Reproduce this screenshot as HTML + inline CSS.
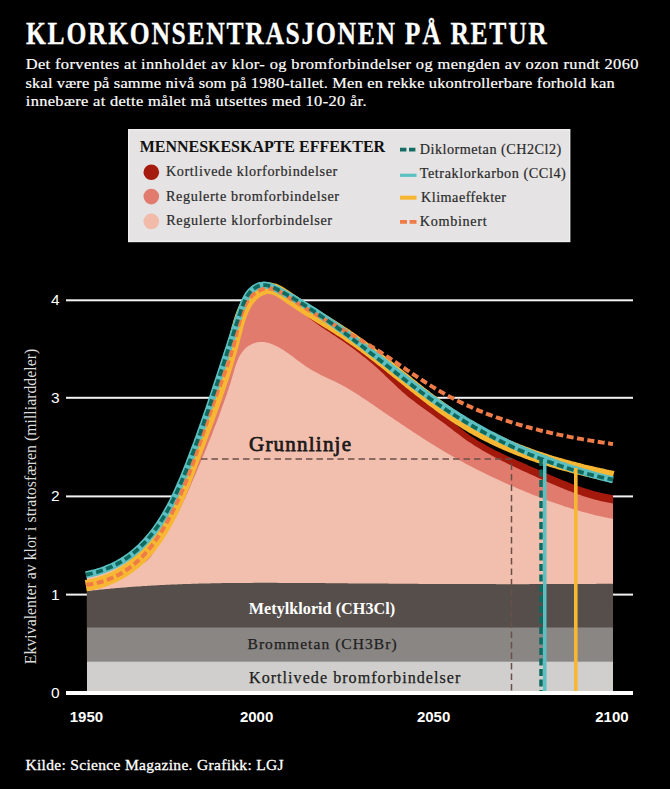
<!DOCTYPE html>
<html><head><meta charset="utf-8"><style>
html,body{margin:0;padding:0;background:#000;}
svg{display:block;}
.s{font-family:"Liberation Serif",serif;}
.a{font-family:"Liberation Sans",sans-serif;}
</style></head><body>
<svg width="670" height="789" viewBox="0 0 670 789">
<rect width="670" height="789" fill="#000"/>
<g transform="translate(26,43.7) scale(0.8,1)"><text class="s" x="0" y="0" font-size="32" font-weight="bold" fill="#fff" stroke="#fff" stroke-width="0.3" textLength="651" lengthAdjust="spacing">KLORKONSENTRASJONEN PÅ RETUR</text></g>
<g class="s" font-size="15.2" fill="#fff" stroke="#fff" stroke-width="0.2">
<text transform="translate(25.7,68.6) scale(1.08,1)" textLength="567.4" lengthAdjust="spacing">Det forventes at innholdet av klor- og bromforbindelser og mengden av ozon rundt 2060</text>
<text transform="translate(25.5,87.6) scale(1.08,1)" textLength="545.5" lengthAdjust="spacing">skal være på samme nivå som på 1980-tallet. Men en rekke ukontrollerbare forhold kan</text>
<text transform="translate(25.8,106.2) scale(1.08,1)" textLength="315.5" lengthAdjust="spacing">innebære at dette målet må utsettes med 10-20 år.</text>
</g>
<rect x="128.7" y="129.7" width="441" height="111.8" fill="#e5e3e3" stroke="#efeded" stroke-width="1.4"/>
<text class="s" x="139.7" y="152.2" font-size="16" font-weight="bold" fill="#111" textLength="245.4" lengthAdjust="spacingAndGlyphs">MENNESKESKAPTE EFFEKTER</text>
<circle cx="151.3" cy="172.3" r="7.8" fill="#a51c0f"/>
<circle cx="151.3" cy="196.6" r="7.8" fill="#e07b6e"/>
<circle cx="151.3" cy="221.4" r="7.8" fill="#f2baa8"/>
<g class="s" font-size="14.2" fill="#2a2a2a" stroke="#2a2a2a" stroke-width="0.2">
<text x="165.9" y="175.6" textLength="171.4" lengthAdjust="spacing">Kortlivede klorforbindelser</text>
<text x="165.9" y="200.5" textLength="173.2" lengthAdjust="spacing">Regulerte bromforbindelser</text>
<text x="166.2" y="225.3" textLength="165.9" lengthAdjust="spacing">Regulerte klorforbindelser</text>
<text x="419.7" y="154.2" textLength="141.6" lengthAdjust="spacing">Diklormetan (CH2Cl2)</text>
<text x="419.7" y="177.5" textLength="146.1" lengthAdjust="spacing">Tetraklorkarbon (CCl4)</text>
<text x="421" y="202.2" textLength="85.1" lengthAdjust="spacing">Klimaeffekter</text>
<text x="419.7" y="225.6" textLength="67" lengthAdjust="spacing">Kombinert</text>
</g>
<path d="M400,149.6 H416.5" stroke="#166d62" stroke-width="3.8" stroke-dasharray="6.4,2.6"/>
<rect x="400" y="173.7" width="16.5" height="3.2" fill="#5cc0c2"/>
<rect x="400" y="195.7" width="16.5" height="4" fill="#f8b733"/>
<path d="M400,221.8 H416.5" stroke="#ef7b47" stroke-width="3.8" stroke-dasharray="7,2.6"/>
<rect x="66" y="299.3" width="567" height="2" fill="#f2f2f2"/>
<rect x="66" y="396.8" width="567" height="2" fill="#f2f2f2"/>
<rect x="66" y="495.4" width="567" height="2" fill="#f2f2f2"/>
<rect x="66" y="593.6" width="567" height="2" fill="#f2f2f2"/>
<path d="M87.0,576.2 L89.4,575.3 L91.8,574.5 L94.1,573.6 L96.5,572.7 L98.9,571.7 L101.3,570.8 L103.7,569.8 L106.1,568.8 L108.5,567.8 L110.9,566.8 L113.2,565.7 L115.6,564.6 L117.9,563.4 L120.2,562.2 L122.4,561.0 L124.7,559.7 L126.9,558.3 L129.0,556.9 L131.1,555.5 L133.2,553.9 L135.2,552.4 L137.3,550.8 L139.2,549.1 L141.1,547.4 L143.0,545.7 L144.9,543.9 L146.7,542.0 L148.5,540.2 L150.2,538.3 L151.9,536.3 L153.5,534.4 L155.2,532.3 L156.7,530.3 L158.2,528.2 L159.7,526.1 L161.2,524.0 L162.6,521.9 L163.9,519.7 L165.3,517.5 L166.5,515.3 L167.8,513.0 L169.0,510.8 L170.1,508.5 L171.3,506.2 L172.4,503.9 L173.5,501.6 L174.5,499.2 L175.5,496.9 L176.5,494.5 L177.5,492.1 L178.5,489.7 L179.4,487.3 L180.4,484.9 L181.3,482.5 L182.2,480.1 L183.1,477.7 L184.0,475.2 L184.9,472.8 L185.8,470.4 L186.7,467.9 L187.5,465.5 L188.4,463.1 L189.3,460.6 L190.2,458.2 L191.1,455.8 L192.0,453.4 L193.0,451.0 L193.9,448.5 L194.8,446.1 L195.7,443.7 L196.6,441.3 L197.6,438.9 L198.5,436.5 L199.4,434.1 L200.4,431.7 L201.3,429.3 L202.2,426.9 L203.1,424.5 L204.0,422.1 L205.0,419.7 L205.9,417.3 L206.8,414.8 L207.7,412.4 L208.6,410.0 L209.4,407.6 L210.3,405.2 L211.2,402.8 L212.0,400.4 L212.9,397.9 L213.7,395.5 L214.6,393.1 L215.4,390.7 L216.2,388.2 L217.0,385.8 L217.8,383.4 L218.6,380.9 L219.4,378.5 L220.1,376.1 L220.9,373.6 L221.7,371.2 L222.5,368.7 L223.2,366.3 L224.0,363.8 L224.8,361.4 L225.5,358.9 L226.3,356.5 L227.1,354.0 L227.9,351.6 L228.6,349.1 L229.4,346.7 L230.2,344.2 L231.0,341.8 L231.8,339.3 L232.6,336.9 L233.4,334.4 L234.2,332.0 L235.0,329.5 L235.9,327.1 L236.7,324.6 L237.6,322.2 L238.4,319.7 L239.3,317.3 L240.2,314.8 L241.1,312.4 L242.1,310.0 L243.0,307.5 L243.9,305.1 L244.9,302.7 L245.9,300.3 L247.0,297.9 L248.1,295.6 L249.4,293.4 L250.9,291.3 L252.7,289.5 L254.7,288.0 L256.9,286.7 L259.3,285.7 L261.8,285.0 L264.4,284.8 L266.9,284.9 L269.4,285.4 L271.8,286.3 L274.2,287.4 L276.4,288.8 L278.5,290.3 L280.6,292.0 L282.5,293.7 L284.4,295.5 L286.2,297.4 L288.0,299.2 L289.8,301.0 L291.7,302.8 L293.6,304.5 L295.5,306.2 L297.5,307.8 L299.5,309.4 L301.5,310.9 L303.6,312.4 L305.7,313.9 L307.9,315.3 L310.0,316.7 L312.2,318.1 L314.4,319.4 L316.6,320.8 L318.8,322.1 L321.0,323.4 L323.3,324.7 L325.5,325.9 L327.8,327.2 L330.0,328.5 L332.3,329.8 L334.5,331.1 L336.8,332.4 L339.0,333.7 L341.2,335.0 L343.4,336.4 L345.6,337.7 L347.8,339.1 L349.9,340.6 L352.1,342.0 L354.2,343.5 L356.3,345.0 L358.3,346.5 L360.4,348.0 L362.5,349.6 L364.5,351.1 L366.5,352.7 L368.5,354.3 L370.6,355.9 L372.6,357.5 L374.6,359.2 L376.5,360.8 L378.5,362.5 L380.5,364.1 L382.5,365.8 L384.4,367.4 L386.4,369.1 L388.4,370.7 L390.4,372.4 L392.3,374.0 L394.3,375.7 L396.3,377.3 L398.3,379.0 L400.3,380.6 L402.3,382.2 L404.3,383.8 L406.3,385.4 L408.3,387.0 L410.3,388.6 L412.4,390.1 L414.4,391.7 L416.5,393.2 L418.5,394.8 L420.6,396.3 L422.7,397.9 L424.7,399.4 L426.8,401.0 L428.8,402.5 L430.9,404.1 L432.9,405.7 L434.9,407.2 L437.0,408.8 L439.0,410.5 L441.0,412.1 L443.0,413.7 L444.9,415.4 L446.9,417.1 L448.9,418.7 L450.9,420.4 L452.9,422.0 L454.9,423.7 L456.8,425.3 L458.9,426.9 L460.9,428.6 L462.9,430.1 L464.9,431.7 L467.0,433.2 L469.1,434.7 L471.2,436.2 L473.3,437.6 L475.4,439.0 L477.6,440.4 L479.8,441.7 L482.0,443.1 L484.2,444.3 L486.4,445.6 L488.7,446.8 L491.0,448.0 L493.2,449.2 L495.5,450.4 L497.8,451.5 L500.2,452.6 L502.5,453.7 L504.8,454.8 L507.2,455.9 L509.5,457.0 L511.9,458.1 L514.2,459.1 L516.6,460.2 L519.0,461.2 L521.3,462.3 L523.7,463.3 L526.1,464.3 L528.4,465.4 L530.8,466.4 L533.2,467.5 L535.5,468.5 L537.9,469.5 L540.2,470.6 L542.6,471.6 L544.9,472.7 L547.3,473.7 L549.7,474.7 L552.0,475.7 L554.4,476.8 L556.7,477.8 L559.1,478.8 L561.5,479.7 L563.9,480.7 L566.2,481.6 L568.6,482.6 L571.0,483.5 L573.4,484.4 L575.8,485.3 L578.2,486.1 L580.7,487.0 L583.1,487.8 L585.5,488.6 L588.0,489.3 L590.4,490.0 L592.9,490.7 L595.4,491.4 L597.9,492.1 L600.4,492.7 L602.9,493.2 L605.4,493.8 L608.0,494.3 L610.5,494.7 L613.1,495.2 L613.0,691 L87.0,691 Z" fill="#a3190c"/>
<path d="M86.9,576.7 L89.4,575.9 L91.9,575.0 L94.3,574.1 L96.7,573.2 L99.2,572.3 L101.6,571.4 L104.0,570.4 L106.3,569.4 L108.7,568.3 L111.0,567.2 L113.4,566.1 L115.7,565.0 L118.0,563.8 L120.2,562.6 L122.5,561.3 L124.7,560.0 L126.9,558.6 L129.1,557.2 L131.2,555.7 L133.4,554.2 L135.5,552.7 L137.5,551.1 L139.5,549.4 L141.5,547.7 L143.4,546.0 L145.3,544.2 L147.2,542.4 L148.9,540.5 L150.7,538.6 L152.3,536.6 L154.0,534.6 L155.5,532.6 L157.1,530.5 L158.6,528.4 L160.0,526.3 L161.4,524.1 L162.8,521.9 L164.1,519.7 L165.4,517.5 L166.7,515.2 L167.9,512.9 L169.1,510.7 L170.2,508.4 L171.4,506.0 L172.5,503.7 L173.6,501.3 L174.6,499.0 L175.7,496.6 L176.7,494.2 L177.7,491.8 L178.7,489.4 L179.6,487.0 L180.6,484.6 L181.5,482.2 L182.5,479.7 L183.4,477.3 L184.3,474.9 L185.2,472.4 L186.1,470.0 L187.0,467.6 L187.9,465.1 L188.8,462.7 L189.7,460.3 L190.6,457.9 L191.5,455.4 L192.4,453.0 L193.4,450.6 L194.3,448.2 L195.2,445.8 L196.1,443.4 L197.0,441.0 L198.0,438.6 L198.9,436.2 L199.8,433.8 L200.7,431.4 L201.6,428.9 L202.5,426.5 L203.5,424.1 L204.4,421.7 L205.3,419.3 L206.2,416.9 L207.1,414.5 L208.0,412.0 L208.8,409.6 L209.7,407.2 L210.6,404.7 L211.5,402.3 L212.3,399.8 L213.2,397.4 L214.0,394.9 L214.9,392.4 L215.7,390.0 L216.5,387.5 L217.4,385.0 L218.2,382.5 L219.0,380.0 L219.8,377.5 L220.6,375.1 L221.4,372.6 L222.2,370.1 L223.0,367.6 L223.8,365.1 L224.6,362.7 L225.4,360.2 L226.2,357.7 L226.9,355.3 L227.7,352.8 L228.5,350.4 L229.3,347.9 L230.1,345.5 L230.9,343.1 L231.7,340.7 L232.5,338.3 L233.3,336.0 L234.1,333.6 L234.9,331.2 L235.7,328.8 L236.5,326.4 L237.3,324.0 L238.1,321.5 L238.9,319.0 L239.7,316.4 L240.6,313.8 L241.4,311.1 L242.3,308.5 L243.2,305.9 L244.2,303.4 L245.3,300.9 L246.5,298.5 L247.9,296.3 L249.3,294.2 L250.9,292.3 L252.7,290.6 L254.6,289.2 L256.7,287.9 L259.0,287.0 L261.3,286.3 L263.7,285.9 L266.2,285.9 L268.6,286.1 L271.0,286.7 L273.5,287.5 L275.8,288.5 L278.1,289.8 L280.2,291.3 L282.3,292.9 L284.3,294.6 L286.3,296.5 L288.2,298.4 L290.1,300.4 L291.9,302.3 L293.8,304.3 L295.7,306.3 L297.6,308.1 L299.5,310.0 L301.5,311.7 L303.5,313.5 L305.5,315.1 L307.5,316.8 L309.5,318.4 L311.6,319.9 L313.6,321.5 L315.7,323.0 L317.8,324.5 L319.9,325.9 L322.0,327.4 L324.1,328.8 L326.2,330.2 L328.4,331.6 L330.5,333.0 L332.6,334.4 L334.8,335.8 L336.9,337.2 L339.0,338.7 L341.1,340.1 L343.3,341.6 L345.4,343.0 L347.5,344.5 L349.6,346.0 L351.7,347.6 L353.8,349.1 L355.8,350.6 L357.9,352.2 L360.0,353.8 L362.0,355.4 L364.0,357.0 L366.1,358.6 L368.1,360.3 L370.1,362.0 L372.0,363.6 L374.0,365.3 L376.0,367.0 L377.9,368.8 L379.8,370.5 L381.7,372.3 L383.6,374.1 L385.5,375.9 L387.4,377.7 L389.2,379.5 L391.1,381.3 L393.0,383.1 L394.8,384.8 L396.7,386.6 L398.6,388.4 L400.5,390.1 L402.4,391.9 L404.4,393.6 L406.3,395.2 L408.3,396.9 L410.3,398.5 L412.3,400.1 L414.4,401.6 L416.5,403.2 L418.5,404.7 L420.6,406.3 L422.7,407.8 L424.8,409.3 L426.9,410.8 L429.0,412.3 L431.1,413.8 L433.2,415.3 L435.3,416.9 L437.4,418.4 L439.5,419.9 L441.6,421.5 L443.7,423.0 L445.8,424.6 L447.8,426.2 L449.9,427.8 L452.0,429.3 L454.0,430.9 L456.1,432.5 L458.2,434.1 L460.2,435.6 L462.3,437.2 L464.4,438.7 L466.5,440.2 L468.6,441.7 L470.8,443.1 L472.9,444.5 L475.1,445.9 L477.3,447.3 L479.5,448.6 L481.7,450.0 L483.9,451.3 L486.2,452.5 L488.4,453.8 L490.7,455.0 L492.9,456.3 L495.2,457.5 L497.5,458.6 L499.8,459.8 L502.1,461.0 L504.5,462.1 L506.8,463.2 L509.1,464.4 L511.5,465.5 L513.8,466.6 L516.1,467.7 L518.5,468.8 L520.9,469.9 L523.2,470.9 L525.6,472.0 L527.9,473.1 L530.3,474.2 L532.7,475.3 L535.0,476.3 L537.4,477.4 L539.7,478.5 L542.1,479.6 L544.5,480.6 L546.9,481.7 L549.2,482.7 L551.6,483.8 L554.0,484.8 L556.4,485.8 L558.8,486.8 L561.2,487.8 L563.5,488.8 L566.0,489.8 L568.4,490.7 L570.8,491.6 L573.2,492.5 L575.6,493.4 L578.0,494.3 L580.5,495.1 L582.9,496.0 L585.4,496.8 L587.8,497.5 L590.3,498.3 L592.8,499.0 L595.3,499.7 L597.8,500.3 L600.3,501.0 L602.8,501.5 L605.3,502.1 L607.9,502.6 L610.4,503.1 L613.0,503.6 L613.0,691 L87.0,691 Z" fill="#e07b6e"/>
<path d="M87.0,576.2 L89.2,575.4 L91.4,574.6 L93.7,573.9 L95.9,573.1 L98.2,572.3 L100.4,571.4 L102.6,570.5 L104.8,569.6 L107.0,568.6 L109.2,567.6 L111.4,566.5 L113.5,565.3 L115.6,564.1 L117.7,562.8 L119.8,561.6 L121.9,560.6 L124.0,559.9 L126.2,559.8 L128.5,560.1 L130.9,560.7 L133.2,561.5 L135.5,562.2 L137.8,562.9 L140.0,563.3 L142.1,563.2 L144.1,562.7 L145.9,561.7 L147.6,560.3 L149.3,558.6 L150.8,556.7 L152.3,554.5 L153.8,552.3 L155.2,550.0 L156.6,547.6 L158.0,545.4 L159.4,543.2 L160.7,541.1 L162.1,539.0 L163.5,537.0 L164.8,535.0 L166.1,533.1 L167.4,531.1 L168.7,529.2 L169.9,527.2 L171.1,525.3 L172.3,523.3 L173.5,521.3 L174.7,519.2 L175.8,517.2 L176.9,515.1 L178.0,513.0 L179.1,510.9 L180.1,508.8 L181.2,506.6 L182.2,504.5 L183.2,502.3 L184.2,500.1 L185.2,498.0 L186.2,495.8 L187.2,493.6 L188.1,491.4 L189.1,489.2 L190.0,487.0 L191.0,484.8 L191.9,482.6 L192.9,480.3 L193.8,478.1 L194.8,475.9 L195.7,473.7 L196.7,471.5 L197.6,469.3 L198.5,467.1 L199.4,464.9 L200.4,462.7 L201.3,460.5 L202.2,458.3 L203.1,456.1 L204.0,453.9 L204.9,451.7 L205.9,449.5 L206.8,447.3 L207.6,445.0 L208.5,442.8 L209.4,440.6 L210.3,438.4 L211.2,436.2 L212.1,434.0 L212.9,431.8 L213.8,429.6 L214.6,427.3 L215.5,425.1 L216.4,422.9 L217.2,420.7 L218.0,418.5 L218.9,416.2 L219.7,414.0 L220.5,411.8 L221.3,409.5 L222.1,407.3 L222.9,405.1 L223.7,402.8 L224.5,400.6 L225.3,398.4 L226.1,396.1 L226.9,393.9 L227.6,391.6 L228.4,389.4 L229.1,387.1 L229.9,384.8 L230.6,382.5 L231.3,380.2 L232.0,377.8 L232.7,375.4 L233.4,373.0 L234.1,370.6 L234.8,368.2 L235.6,365.8 L236.4,363.5 L237.2,361.2 L238.2,359.0 L239.2,356.8 L240.4,354.7 L241.7,352.7 L243.1,350.9 L244.6,349.2 L246.3,347.6 L248.2,346.1 L250.3,344.9 L252.5,343.8 L254.7,342.9 L257.1,342.3 L259.4,342.0 L261.8,341.9 L264.1,342.0 L266.5,342.4 L268.8,343.0 L271.1,343.8 L273.4,344.7 L275.6,345.7 L277.8,346.8 L279.9,348.0 L282.0,349.3 L284.1,350.6 L286.1,352.0 L288.1,353.3 L290.0,354.7 L292.0,356.1 L293.9,357.6 L295.8,359.0 L297.7,360.4 L299.6,361.8 L301.5,363.3 L303.4,364.6 L305.3,366.0 L307.3,367.3 L309.3,368.6 L311.3,369.8 L313.4,371.0 L315.4,372.1 L317.6,373.2 L319.7,374.3 L321.8,375.4 L324.0,376.4 L326.2,377.4 L328.3,378.5 L330.5,379.5 L332.7,380.5 L334.9,381.6 L337.0,382.6 L339.2,383.7 L341.3,384.8 L343.4,385.9 L345.5,387.1 L347.5,388.3 L349.6,389.5 L351.6,390.7 L353.6,392.0 L355.7,393.3 L357.7,394.6 L359.7,395.8 L361.6,397.2 L363.6,398.5 L365.6,399.8 L367.6,401.1 L369.6,402.5 L371.5,403.8 L373.5,405.1 L375.5,406.5 L377.4,407.8 L379.4,409.2 L381.4,410.5 L383.4,411.9 L385.3,413.2 L387.3,414.5 L389.3,415.9 L391.3,417.2 L393.2,418.6 L395.2,419.9 L397.2,421.3 L399.2,422.6 L401.1,423.9 L403.1,425.3 L405.1,426.6 L407.1,427.9 L409.1,429.2 L411.1,430.6 L413.1,431.9 L415.1,433.2 L417.1,434.5 L419.1,435.8 L421.1,437.1 L423.1,438.4 L425.1,439.7 L427.1,441.0 L429.1,442.2 L431.2,443.5 L433.2,444.8 L435.2,446.0 L437.2,447.3 L439.3,448.5 L441.3,449.8 L443.4,451.0 L445.4,452.2 L447.5,453.4 L449.5,454.6 L451.6,455.8 L453.7,457.0 L455.7,458.2 L457.8,459.3 L459.9,460.5 L462.0,461.6 L464.1,462.8 L466.2,463.9 L468.3,465.0 L470.4,466.1 L472.5,467.2 L474.6,468.3 L476.7,469.4 L478.9,470.5 L481.0,471.5 L483.1,472.6 L485.3,473.6 L487.4,474.7 L489.6,475.7 L491.7,476.7 L493.9,477.8 L496.0,478.8 L498.2,479.8 L500.4,480.8 L502.5,481.8 L504.7,482.7 L506.9,483.7 L509.1,484.7 L511.3,485.6 L513.4,486.6 L515.6,487.5 L517.8,488.5 L520.0,489.4 L522.2,490.3 L524.4,491.3 L526.6,492.2 L528.8,493.1 L531.1,494.0 L533.3,494.9 L535.5,495.8 L537.7,496.6 L539.9,497.5 L542.2,498.4 L544.4,499.2 L546.6,500.0 L548.9,500.9 L551.1,501.7 L553.4,502.5 L555.6,503.3 L557.9,504.1 L560.1,504.8 L562.4,505.6 L564.6,506.4 L566.9,507.1 L569.2,507.8 L571.5,508.5 L573.7,509.2 L576.0,509.9 L578.3,510.6 L580.6,511.2 L582.9,511.9 L585.2,512.5 L587.5,513.1 L589.8,513.7 L592.1,514.3 L594.4,514.9 L596.7,515.4 L599.0,516.0 L601.4,516.5 L603.7,517.0 L606.0,517.5 L608.4,518.0 L610.7,518.4 L613.0,518.8 L613.0,691 L87.0,691 Z" fill="#f2bfae"/>
<path d="M86.9,591.1 L88.7,590.9 L90.4,590.7 L92.2,590.5 L93.9,590.3 L95.7,590.2 L97.4,590.0 L99.2,589.8 L100.9,589.6 L102.7,589.4 L104.4,589.3 L106.2,589.1 L107.9,588.9 L109.7,588.7 L111.4,588.6 L113.2,588.4 L114.9,588.3 L116.7,588.1 L118.4,588.0 L120.2,587.8 L122.0,587.7 L123.7,587.5 L125.5,587.4 L127.2,587.2 L129.0,587.1 L130.7,587.0 L132.5,586.8 L134.2,586.7 L136.0,586.6 L137.7,586.5 L139.5,586.4 L141.3,586.2 L143.0,586.1 L144.8,586.0 L146.5,585.9 L148.3,585.8 L150.0,585.7 L151.8,585.6 L153.5,585.5 L155.3,585.4 L157.1,585.3 L158.8,585.2 L160.6,585.1 L162.3,585.0 L164.1,584.9 L165.8,584.8 L167.6,584.8 L169.4,584.7 L171.1,584.6 L172.9,584.5 L174.6,584.4 L176.4,584.4 L178.1,584.3 L179.9,584.2 L181.7,584.2 L183.4,584.1 L185.2,584.0 L186.9,584.0 L188.7,583.9 L190.4,583.9 L192.2,583.8 L194.0,583.8 L195.7,583.7 L197.5,583.7 L199.2,583.6 L201.0,583.6 L202.8,583.5 L204.5,583.5 L206.3,583.4 L208.0,583.4 L209.8,583.4 L211.6,583.3 L213.3,583.3 L215.1,583.3 L216.8,583.2 L218.6,583.2 L220.4,583.2 L222.1,583.1 L223.9,583.1 L225.6,583.1 L227.4,583.1 L229.2,583.0 L230.9,583.0 L232.7,583.0 L234.4,583.0 L236.2,583.0 L238.0,582.9 L239.7,582.9 L241.5,582.9 L243.2,582.9 L245.0,582.9 L246.8,582.9 L248.5,582.9 L250.3,582.9 L252.0,582.9 L253.8,582.8 L255.6,582.8 L257.3,582.8 L259.1,582.8 L260.8,582.8 L262.6,582.8 L264.4,582.8 L266.1,582.8 L267.9,582.8 L269.6,582.8 L271.4,582.8 L273.2,582.8 L274.9,582.8 L276.7,582.8 L278.5,582.9 L280.2,582.9 L282.0,582.9 L283.7,582.9 L285.5,582.9 L287.3,582.9 L289.0,582.9 L290.8,582.9 L292.5,582.9 L294.3,582.9 L296.1,582.9 L297.8,582.9 L299.6,583.0 L301.4,583.0 L303.1,583.0 L304.9,583.0 L306.6,583.0 L308.4,583.0 L310.2,583.0 L311.9,583.0 L313.7,583.1 L315.4,583.1 L317.2,583.1 L319.0,583.1 L320.7,583.1 L322.5,583.1 L324.3,583.1 L326.0,583.2 L327.8,583.2 L329.5,583.2 L331.3,583.2 L333.1,583.2 L334.8,583.2 L336.6,583.3 L338.3,583.3 L340.1,583.3 L341.9,583.3 L343.6,583.3 L345.4,583.3 L347.1,583.3 L348.9,583.4 L350.7,583.4 L352.4,583.4 L354.2,583.4 L356.0,583.4 L357.7,583.4 L359.5,583.4 L361.2,583.5 L363.0,583.5 L364.8,583.5 L366.5,583.5 L368.3,583.5 L370.0,583.5 L371.8,583.5 L373.6,583.5 L375.3,583.6 L377.1,583.6 L378.8,583.6 L380.6,583.6 L382.4,583.6 L384.1,583.6 L385.9,583.6 L387.7,583.6 L389.4,583.7 L391.2,583.7 L392.9,583.7 L394.7,583.7 L396.5,583.7 L398.2,583.7 L400.0,583.7 L401.7,583.7 L403.5,583.8 L405.3,583.8 L407.0,583.8 L408.8,583.8 L410.5,583.8 L412.3,583.8 L414.1,583.8 L415.8,583.8 L417.6,583.8 L419.3,583.9 L421.1,583.9 L422.9,583.9 L424.6,583.9 L426.4,583.9 L428.1,583.9 L429.9,583.9 L431.7,583.9 L433.4,583.9 L435.2,583.9 L437.0,584.0 L438.7,584.0 L440.5,584.0 L442.2,584.0 L444.0,584.0 L445.8,584.0 L447.5,584.0 L449.3,584.0 L451.0,584.0 L452.8,584.0 L454.6,584.0 L456.3,584.0 L458.1,584.0 L459.8,584.1 L461.6,584.1 L463.4,584.1 L465.1,584.1 L466.9,584.1 L468.6,584.1 L470.4,584.1 L472.2,584.1 L473.9,584.1 L475.7,584.1 L477.4,584.1 L479.2,584.1 L481.0,584.1 L482.7,584.1 L484.5,584.1 L486.2,584.1 L488.0,584.1 L489.8,584.1 L491.5,584.1 L493.3,584.1 L495.0,584.1 L496.8,584.2 L498.6,584.2 L500.3,584.2 L502.1,584.2 L503.9,584.2 L505.6,584.2 L507.4,584.2 L509.1,584.2 L510.9,584.2 L512.7,584.2 L514.4,584.2 L516.2,584.2 L517.9,584.2 L519.7,584.2 L521.5,584.2 L523.2,584.2 L525.0,584.2 L526.7,584.2 L528.5,584.2 L530.3,584.1 L532.0,584.1 L533.8,584.1 L535.5,584.1 L537.3,584.1 L539.1,584.1 L540.8,584.1 L542.6,584.1 L544.3,584.1 L546.1,584.1 L547.9,584.1 L549.6,584.1 L551.4,584.1 L553.1,584.1 L554.9,584.1 L556.7,584.1 L558.4,584.1 L560.2,584.1 L561.9,584.1 L563.7,584.0 L565.5,584.0 L567.2,584.0 L569.0,584.0 L570.7,584.0 L572.5,584.0 L574.3,584.0 L576.0,584.0 L577.8,584.0 L579.5,584.0 L581.3,584.0 L583.1,583.9 L584.8,583.9 L586.6,583.9 L588.3,583.9 L590.1,583.9 L591.9,583.9 L593.6,583.9 L595.4,583.9 L597.1,583.8 L598.9,583.8 L600.7,583.8 L602.4,583.8 L604.2,583.8 L606.0,583.8 L607.7,583.7 L609.5,583.7 L611.2,583.7 L613.0,583.7 L613.0,691 L87.0,691 Z" fill="#554e4a"/>
<rect x="87" y="627.5" width="526" height="34" fill="#898684"/>
<rect x="87" y="661.5" width="526" height="30" fill="#d0cfcd"/>
<path d="M201,459 H511.5 V691" fill="none" stroke="#6a4f48" stroke-width="1.5" stroke-dasharray="6.5,4"/>
<rect x="66" y="691" width="567" height="4" fill="#ffffff"/>
<path d="M85.8,585.6 L88.7,585.1 L91.5,584.5 L94.3,583.9 L97.0,583.2 L99.7,582.4 L102.3,581.6 L104.9,580.7 L107.4,579.8 L109.8,578.8 L112.2,577.8 L114.6,576.7 L116.9,575.5 L119.1,574.3 L121.3,573.0 L123.5,571.7 L125.6,570.4 L127.7,569.0 L129.7,567.5 L131.7,566.0 L133.7,564.5 L135.6,562.9 L137.4,561.3 L139.3,559.6 L141.0,557.9 L142.8,556.1 L144.5,554.4 L146.2,552.5 L147.8,550.7 L149.4,548.8 L151.0,546.9 L152.5,544.9 L154.0,542.9 L155.5,540.9 L156.9,538.8 L158.3,536.7 L159.7,534.6 L161.1,532.5 L162.4,530.3 L163.7,528.2 L165.0,525.9 L166.2,523.7 L167.5,521.5 L168.7,519.2 L169.9,516.9 L171.0,514.6 L172.2,512.3 L173.3,509.9 L174.4,507.6 L175.5,505.2 L176.6,502.8 L177.6,500.4 L178.6,498.0 L179.7,495.6 L180.7,493.2 L181.7,490.8 L182.7,488.4 L183.6,485.9 L184.6,483.5 L185.5,481.0 L186.5,478.6 L187.4,476.2 L188.3,473.7 L189.3,471.3 L190.2,468.8 L191.1,466.4 L192.0,464.0 L192.9,461.5 L193.8,459.1 L194.7,456.7 L195.6,454.3 L196.5,451.9 L197.4,449.5 L198.3,447.1 L199.2,444.8 L200.1,442.4 L201.0,440.0 L201.9,437.6 L202.8,435.3 L203.6,432.9 L204.5,430.6 L205.4,428.2 L206.3,425.9 L207.1,423.5 L208.0,421.2 L208.9,418.8 L209.7,416.5 L210.6,414.1 L211.4,411.8 L212.3,409.4 L213.1,407.1 L214.0,404.7 L214.8,402.3 L215.6,400.0 L216.5,397.6 L217.3,395.2 L218.1,392.8 L218.9,390.5 L219.7,388.1 L220.5,385.7 L221.3,383.3 L222.1,380.9 L222.9,378.4 L223.7,376.0 L224.5,373.6 L225.2,371.1 L226.0,368.7 L226.8,366.2 L227.5,363.7 L228.2,361.2 L229.0,358.7 L229.7,356.2 L230.4,353.7 L231.2,351.2 L231.9,348.6 L232.6,346.1 L233.3,343.5 L234.0,340.9 L234.6,338.3 L235.3,335.6 L236.0,333.0 L236.7,330.4 L237.3,327.7 L238.1,325.1 L238.8,322.5 L239.6,320.0 L240.4,317.4 L241.3,314.9 L242.2,312.5 L243.2,310.1 L244.2,307.8 L245.4,305.6 L246.6,303.4 L247.9,301.4 L249.4,299.4 L250.9,297.6 L252.5,295.8 L254.3,294.2 L256.2,292.7 L258.2,291.4 L260.3,290.3 L262.4,289.4 L264.6,288.7 L266.8,288.3 L269.1,288.2 L271.4,288.5 L273.6,289.0 L275.9,289.8 L278.1,290.9 L280.4,292.1 L282.6,293.5 L284.9,295.0 L287.1,296.5 L289.3,298.1 L291.6,299.6 L293.8,301.1 L296.0,302.6 L298.2,304.1 L300.4,305.6 L302.6,307.0 L304.8,308.4 L307.0,309.8 L309.2,311.2 L311.4,312.6 L313.6,314.0 L315.8,315.3 L318.0,316.7 L320.2,318.0 L322.3,319.4 L324.5,320.7 L326.6,322.0 L328.8,323.4 L330.9,324.7 L333.1,326.0 L335.2,327.4 L337.3,328.7 L339.4,330.1 L341.6,331.5 L343.7,332.8 L345.8,334.2 L347.8,335.7 L349.9,337.1 L352.0,338.5 L354.1,340.0 L356.1,341.4 L358.2,342.9 L360.3,344.4 L362.3,345.9 L364.4,347.4 L366.4,349.0 L368.4,350.5 L370.5,352.0 L372.5,353.6 L374.5,355.1 L376.5,356.7 L378.6,358.3 L380.6,359.9 L382.6,361.5 L384.6,363.0 L386.6,364.6 L388.6,366.2 L390.6,367.9 L392.6,369.5 L394.6,371.1 L396.6,372.7 L398.6,374.3 L400.7,375.9 L402.7,377.5 L404.7,379.1 L406.7,380.7 L408.7,382.4 L410.7,384.0 L412.7,385.6 L414.7,387.2 L416.8,388.8 L418.8,390.4 L420.8,392.0 L422.8,393.5 L424.9,395.1 L426.9,396.7 L429.0,398.3 L431.0,399.8 L433.1,401.4 L435.1,402.9 L437.2,404.4 L439.2,406.0 L441.3,407.5 L443.4,409.0 L445.5,410.5 L447.6,411.9 L449.7,413.4 L451.8,414.8 L453.9,416.3 L456.1,417.7 L458.2,419.1 L460.3,420.5 L462.5,421.9 L464.7,423.2 L466.8,424.6 L469.0,425.9 L471.2,427.2 L473.4,428.5 L475.6,429.7 L477.8,431.0 L480.1,432.2 L482.3,433.4 L484.6,434.6 L486.8,435.8 L489.1,436.9 L491.4,438.0 L493.7,439.1 L496.0,440.2 L498.3,441.3 L500.6,442.4 L503.0,443.4 L505.3,444.5 L507.6,445.5 L510.0,446.5 L512.4,447.5 L514.7,448.4 L517.1,449.4 L519.5,450.3 L521.9,451.2 L524.3,452.1 L526.7,453.0 L529.1,453.9 L531.5,454.8 L533.9,455.6 L536.3,456.4 L538.7,457.3 L541.2,458.1 L543.6,458.9 L546.1,459.6 L548.5,460.4 L551.0,461.2 L553.4,461.9 L555.9,462.6 L558.3,463.4 L560.8,464.1 L563.3,464.8 L565.8,465.4 L568.2,466.1 L570.7,466.8 L573.2,467.4 L575.7,468.1 L578.2,468.7 L580.6,469.3 L583.1,470.0 L585.6,470.6 L588.1,471.2 L590.6,471.7 L593.1,472.3 L595.6,472.9 L598.1,473.4 L600.6,474.0 L603.1,474.5 L605.6,475.1 L608.1,475.6 L610.6,476.1 L613.1,476.7" fill="none" stroke="#f8b733" stroke-width="11.5" stroke-linejoin="round"/>
<path d="M85.9,574.7 L88.8,574.1 L91.5,573.5 L94.2,572.8 L96.9,572.1 L99.5,571.3 L102.1,570.5 L104.6,569.6 L107.1,568.6 L109.5,567.6 L111.8,566.6 L114.2,565.4 L116.4,564.3 L118.7,563.1 L120.9,561.8 L123.0,560.5 L125.1,559.1 L127.2,557.7 L129.2,556.3 L131.2,554.8 L133.2,553.2 L135.1,551.6 L136.9,550.0 L138.8,548.4 L140.6,546.7 L142.3,544.9 L144.0,543.1 L145.7,541.3 L147.4,539.5 L149.0,537.6 L150.6,535.7 L152.2,533.8 L153.7,531.8 L155.2,529.8 L156.7,527.8 L158.1,525.7 L159.5,523.6 L160.9,521.5 L162.3,519.4 L163.6,517.2 L164.9,515.0 L166.2,512.8 L167.4,510.6 L168.7,508.4 L169.9,506.1 L171.1,503.8 L172.3,501.6 L173.4,499.2 L174.5,496.9 L175.7,494.6 L176.8,492.3 L177.8,489.9 L178.9,487.5 L179.9,485.2 L181.0,482.8 L182.0,480.4 L183.0,478.0 L184.0,475.6 L185.0,473.2 L185.9,470.8 L186.9,468.4 L187.8,466.0 L188.8,463.6 L189.7,461.2 L190.6,458.8 L191.5,456.5 L192.4,454.1 L193.3,451.7 L194.2,449.3 L195.1,446.9 L196.0,444.5 L196.9,442.2 L197.7,439.8 L198.6,437.4 L199.5,435.1 L200.3,432.7 L201.2,430.3 L202.0,428.0 L202.8,425.6 L203.7,423.2 L204.5,420.9 L205.3,418.5 L206.1,416.1 L207.0,413.8 L207.8,411.4 L208.6,409.1 L209.4,406.7 L210.2,404.3 L211.0,401.9 L211.8,399.6 L212.6,397.2 L213.4,394.8 L214.2,392.4 L215.0,390.1 L215.7,387.7 L216.5,385.3 L217.3,382.9 L218.1,380.5 L218.9,378.1 L219.7,375.7 L220.5,373.3 L221.3,370.9 L222.0,368.5 L222.8,366.1 L223.6,363.6 L224.4,361.2 L225.2,358.8 L226.0,356.3 L226.8,353.9 L227.6,351.4 L228.4,349.0 L229.2,346.5 L230.0,344.0 L230.8,341.6 L231.6,339.1 L232.4,336.6 L233.2,334.1 L234.0,331.6 L234.8,329.0 L235.6,326.5 L236.5,324.0 L237.3,321.4 L238.1,318.9 L239.0,316.3 L239.8,313.7 L240.7,311.2 L241.6,308.6 L242.5,306.1 L243.5,303.6 L244.5,301.2 L245.6,298.9 L246.8,296.8 L248.1,294.7 L249.5,292.8 L251.0,291.0 L252.7,289.5 L254.5,288.1 L256.5,286.9 L258.6,286.0 L260.8,285.4 L263.0,285.1 L265.3,285.1 L267.5,285.5 L269.8,286.1 L272.1,287.0 L274.4,288.1 L276.7,289.2 L279.0,290.4 L281.3,291.6 L283.5,292.8 L285.8,294.1 L288.0,295.3 L290.3,296.6 L292.5,297.8 L294.7,299.1 L296.9,300.4 L299.1,301.7 L301.3,303.0 L303.5,304.4 L305.7,305.7 L307.8,307.0 L310.0,308.4 L312.2,309.8 L314.3,311.1 L316.5,312.5 L318.6,313.9 L320.7,315.3 L322.8,316.8 L325.0,318.2 L327.1,319.6 L329.2,321.1 L331.3,322.5 L333.4,324.0 L335.5,325.4 L337.6,326.9 L339.6,328.4 L341.7,329.9 L343.8,331.4 L345.8,332.9 L347.9,334.4 L350.0,335.9 L352.0,337.4 L354.1,338.9 L356.1,340.4 L358.1,342.0 L360.2,343.5 L362.2,345.0 L364.2,346.6 L366.3,348.1 L368.3,349.7 L370.3,351.2 L372.3,352.8 L374.3,354.4 L376.4,355.9 L378.4,357.5 L380.4,359.1 L382.4,360.6 L384.4,362.2 L386.4,363.8 L388.4,365.3 L390.4,366.9 L392.4,368.5 L394.4,370.0 L396.4,371.6 L398.4,373.2 L400.4,374.7 L402.4,376.3 L404.4,377.9 L406.5,379.4 L408.5,381.0 L410.5,382.5 L412.5,384.1 L414.5,385.6 L416.6,387.1 L418.6,388.7 L420.6,390.2 L422.7,391.7 L424.7,393.2 L426.8,394.7 L428.8,396.2 L430.9,397.7 L433.0,399.1 L435.0,400.6 L437.1,402.0 L439.2,403.5 L441.3,404.9 L443.4,406.3 L445.5,407.7 L447.7,409.1 L449.8,410.5 L451.9,411.9 L454.1,413.3 L456.2,414.6 L458.4,416.0 L460.6,417.3 L462.7,418.6 L464.9,420.0 L467.1,421.3 L469.3,422.5 L471.5,423.8 L473.7,425.1 L475.9,426.4 L478.1,427.6 L480.4,428.8 L482.6,430.1 L484.8,431.3 L487.1,432.5 L489.3,433.7 L491.6,434.9 L493.8,436.0 L496.1,437.2 L498.4,438.3 L500.7,439.5 L503.0,440.6 L505.2,441.7 L507.5,442.8 L509.8,443.9 L512.2,445.0 L514.5,446.1 L516.8,447.1 L519.1,448.2 L521.4,449.2 L523.8,450.2 L526.1,451.2 L528.5,452.2 L530.8,453.2 L533.2,454.2 L535.5,455.2 L537.9,456.1 L540.2,457.1 L542.6,458.0 L545.0,458.9 L547.4,459.8 L549.8,460.7 L552.1,461.6 L554.5,462.5 L556.9,463.3 L559.3,464.2 L561.7,465.0 L564.2,465.8 L566.6,466.7 L569.0,467.5 L571.4,468.2 L573.8,469.0 L576.3,469.8 L578.7,470.5 L581.1,471.3 L583.6,472.0 L586.0,472.7 L588.4,473.4 L590.9,474.1 L593.3,474.8 L595.8,475.5 L598.2,476.2 L600.7,476.8 L603.1,477.4 L605.6,478.1 L608.1,478.7 L610.5,479.3 L613.0,479.8" fill="none" stroke="#5cc0c2" stroke-width="7" stroke-linejoin="round"/>
<path d="M86.4,584.8 L89.2,584.4 L91.9,584.0 L94.6,583.5 L97.3,582.9 L99.8,582.2 L102.4,581.5 L104.9,580.7 L107.3,579.9 L109.7,578.9 L112.0,578.0 L114.3,576.9 L116.5,575.8 L118.8,574.7 L120.9,573.5 L123.0,572.2 L125.1,570.9 L127.1,569.5 L129.1,568.1 L131.1,566.6 L133.0,565.1 L134.9,563.6 L136.7,561.9 L138.5,560.3 L140.3,558.6 L142.0,556.9 L143.7,555.1 L145.3,553.3 L147.0,551.5 L148.6,549.6 L150.1,547.7 L151.7,545.7 L153.2,543.8 L154.6,541.8 L156.1,539.7 L157.5,537.7 L158.9,535.6 L160.3,533.5 L161.6,531.4 L162.9,529.2 L164.2,527.1 L165.5,524.9 L166.7,522.7 L167.9,520.5 L169.1,518.3 L170.3,516.1 L171.5,513.9 L172.6,511.6 L173.8,509.3 L174.9,507.1 L175.9,504.8 L177.0,502.5 L178.1,500.2 L179.1,497.9 L180.1,495.6 L181.1,493.3 L182.1,490.9 L183.1,488.6 L184.1,486.3 L185.0,483.9 L186.0,481.6 L186.9,479.2 L187.8,476.8 L188.7,474.5 L189.6,472.1 L190.5,469.7 L191.4,467.3 L192.3,465.0 L193.1,462.6 L194.0,460.2 L194.8,457.8 L195.7,455.4 L196.5,453.0 L197.3,450.6 L198.1,448.2 L198.9,445.8 L199.8,443.4 L200.6,441.1 L201.4,438.7 L202.2,436.3 L203.0,433.9 L203.8,431.5 L204.6,429.1 L205.4,426.7 L206.2,424.4 L207.0,422.0 L207.8,419.6 L208.6,417.3 L209.4,414.9 L210.2,412.6 L211.0,410.2 L211.8,407.9 L212.6,405.5 L213.4,403.2 L214.3,400.9 L215.1,398.6 L215.9,396.3 L216.8,394.0 L217.6,391.7 L218.5,389.4 L219.3,387.1 L220.2,384.9 L221.0,382.6 L221.9,380.3 L222.7,378.0 L223.6,375.7 L224.4,373.4 L225.3,371.1 L226.1,368.8 L226.9,366.5 L227.7,364.1 L228.5,361.8 L229.3,359.4 L230.1,357.0 L230.9,354.6 L231.6,352.2 L232.4,349.7 L233.1,347.3 L233.8,344.7 L234.5,342.2 L235.2,339.7 L235.8,337.1 L236.4,334.4 L237.0,331.8 L237.6,329.2 L238.3,326.5 L238.9,323.9 L239.6,321.3 L240.3,318.7 L241.0,316.1 L241.8,313.7 L242.7,311.2 L243.6,308.8 L244.6,306.5 L245.7,304.3 L246.9,302.2 L248.2,300.2 L249.7,298.3 L251.2,296.5 L252.9,294.9 L254.7,293.4 L256.6,292.0 L258.6,290.9 L260.7,289.9 L262.9,289.1 L265.1,288.6 L267.4,288.4 L269.7,288.4 L271.9,288.7 L274.1,289.2 L276.4,290.0 L278.6,291.0 L280.8,292.2 L283.0,293.5 L285.2,294.9 L287.3,296.4 L289.5,297.8 L291.7,299.3 L293.9,300.7 L296.1,302.1 L298.3,303.5 L300.4,304.9 L302.6,306.3 L304.8,307.6 L307.0,309.0 L309.2,310.3 L311.4,311.6 L313.5,312.9 L315.7,314.2 L317.9,315.5 L320.1,316.8 L322.2,318.1 L324.4,319.3 L326.6,320.6 L328.8,321.8 L330.9,323.1 L333.1,324.3 L335.3,325.5 L337.4,326.8 L339.6,328.0 L341.8,329.2 L343.9,330.4 L346.1,331.7 L348.2,332.9 L350.4,334.1 L352.5,335.4 L354.7,336.6 L356.8,337.8 L359.0,339.1 L361.1,340.3 L363.2,341.6 L365.4,342.9 L367.5,344.1 L369.6,345.4 L371.7,346.7 L373.9,348.0 L376.0,349.4 L378.1,350.7 L380.2,352.0 L382.3,353.4 L384.4,354.7 L386.5,356.1 L388.6,357.5 L390.7,358.9 L392.8,360.3 L394.8,361.7 L396.9,363.1 L399.0,364.6 L401.1,366.0 L403.2,367.4 L405.3,368.8 L407.4,370.3 L409.5,371.7 L411.6,373.1 L413.6,374.5 L415.7,375.9 L417.8,377.3 L420.0,378.7 L422.1,380.1 L424.2,381.5 L426.3,382.9 L428.4,384.2 L430.6,385.6 L432.7,386.9 L434.9,388.2 L437.0,389.5 L439.2,390.8 L441.3,392.1 L443.5,393.3 L445.7,394.5 L447.9,395.8 L450.1,396.9 L452.3,398.1 L454.6,399.3 L456.8,400.4 L459.0,401.5 L461.3,402.6 L463.5,403.7 L465.8,404.8 L468.1,405.8 L470.3,406.8 L472.6,407.8 L474.9,408.8 L477.2,409.8 L479.5,410.8 L481.8,411.7 L484.2,412.6 L486.5,413.6 L488.8,414.5 L491.2,415.3 L493.5,416.2 L495.9,417.1 L498.2,417.9 L500.6,418.7 L502.9,419.5 L505.3,420.3 L507.7,421.1 L510.1,421.9 L512.5,422.6 L514.8,423.4 L517.2,424.1 L519.6,424.8 L522.1,425.5 L524.5,426.2 L526.9,426.9 L529.3,427.5 L531.7,428.2 L534.1,428.8 L536.6,429.4 L539.0,430.1 L541.4,430.7 L543.9,431.3 L546.3,431.8 L548.8,432.4 L551.2,433.0 L553.7,433.5 L556.1,434.1 L558.6,434.6 L561.1,435.1 L563.5,435.6 L566.0,436.1 L568.4,436.6 L570.9,437.1 L573.4,437.6 L575.9,438.0 L578.3,438.5 L580.8,438.9 L583.3,439.4 L585.8,439.8 L588.2,440.2 L590.7,440.6 L593.2,441.0 L595.7,441.4 L598.2,441.8 L600.6,442.2 L603.1,442.6 L605.6,443.0 L608.1,443.3 L610.6,443.7 L613.0,444.0" fill="none" stroke="#ef7b47" stroke-width="4" stroke-dasharray="7,3.5"/>
<path d="M85.9,574.7 L88.8,574.1 L91.5,573.5 L94.2,572.8 L96.9,572.1 L99.5,571.3 L102.1,570.5 L104.6,569.6 L107.1,568.6 L109.5,567.6 L111.9,566.6 L114.2,565.4 L116.5,564.3 L118.7,563.0 L120.9,561.8 L123.0,560.5 L125.2,559.1 L127.2,557.7 L129.3,556.2 L131.2,554.7 L133.2,553.2 L135.1,551.6 L137.0,550.0 L138.8,548.3 L140.6,546.6 L142.3,544.9 L144.1,543.1 L145.8,541.3 L147.4,539.5 L149.0,537.6 L150.6,535.7 L152.2,533.7 L153.7,531.7 L155.2,529.7 L156.7,527.7 L158.1,525.6 L159.5,523.6 L160.9,521.4 L162.3,519.3 L163.6,517.2 L164.9,515.0 L166.2,512.8 L167.5,510.6 L168.7,508.3 L169.9,506.1 L171.1,503.8 L172.3,501.5 L173.4,499.2 L174.6,496.9 L175.7,494.5 L176.8,492.2 L177.9,489.8 L178.9,487.5 L180.0,485.1 L181.0,482.7 L182.0,480.3 L183.0,477.9 L184.0,475.5 L185.0,473.1 L186.0,470.7 L186.9,468.3 L187.9,465.9 L188.8,463.5 L189.7,461.1 L190.7,458.7 L191.6,456.4 L192.5,454.0 L193.4,451.6 L194.3,449.2 L195.2,446.8 L196.0,444.4 L196.9,442.1 L197.8,439.7 L198.6,437.3 L199.5,434.9 L200.4,432.6 L201.2,430.2 L202.0,427.8 L202.9,425.5 L203.7,423.1 L204.5,420.7 L205.4,418.4 L206.2,416.0 L207.0,413.6 L207.8,411.3 L208.6,408.9 L209.4,406.5 L210.2,404.2 L211.0,401.8 L211.8,399.4 L212.6,397.1 L213.4,394.7 L214.2,392.3 L215.0,389.9 L215.8,387.5 L216.6,385.1 L217.4,382.7 L218.2,380.3 L219.0,377.9 L219.7,375.5 L220.5,373.1 L221.3,370.7 L222.1,368.3 L222.9,365.9 L223.7,363.5 L224.5,361.0 L225.3,358.6 L226.0,356.2 L226.8,353.7 L227.6,351.2 L228.4,348.8 L229.2,346.3 L230.0,343.8 L230.8,341.4 L231.6,338.9 L232.4,336.4 L233.3,333.9 L234.1,331.4 L234.9,328.8 L235.7,326.3 L236.5,323.8 L237.4,321.2 L238.2,318.7 L239.0,316.1 L239.9,313.5 L240.7,311.0 L241.6,308.4 L242.6,305.9 L243.5,303.5 L244.6,301.1 L245.7,298.8 L246.9,296.6 L248.2,294.5 L249.6,292.6 L251.2,290.9 L252.9,289.3 L254.7,288.0 L256.7,286.8 L258.8,285.9 L261.0,285.3 L263.2,285.1 L265.5,285.1 L267.8,285.5 L270.1,286.2 L272.4,287.1 L274.7,288.1 L277.0,289.3 L279.2,290.5 L281.5,291.7 L283.8,293.0 L286.0,294.2 L288.2,295.5 L290.5,296.7 L292.7,298.0 L294.9,299.3 L297.1,300.6 L299.3,302.0 L301.5,303.3 L303.6,304.6 L305.8,306.0 L308.0,307.4 L310.1,308.8 L312.2,310.2 L314.4,311.6 L316.5,313.0 L318.6,314.4 L320.7,315.8 L322.9,317.3 L325.0,318.7 L327.0,320.2 L329.1,321.7 L331.2,323.1 L333.3,324.6 L335.4,326.1 L337.4,327.6 L339.5,329.1 L341.6,330.6 L343.6,332.2 L345.6,333.7 L347.7,335.2 L349.7,336.8 L351.8,338.3 L353.8,339.9 L355.8,341.4 L357.8,343.0 L359.9,344.5 L361.9,346.1 L363.9,347.6 L365.9,349.2 L367.9,350.8 L369.9,352.4 L371.9,353.9 L374.0,355.5 L376.0,357.1 L378.0,358.7 L380.0,360.2 L382.0,361.8 L384.0,363.4 L386.0,365.0 L388.0,366.6 L390.0,368.1 L392.0,369.7 L394.0,371.3 L396.0,372.9 L398.0,374.4 L400.0,376.0 L402.0,377.6 L404.0,379.1 L406.0,380.7 L408.0,382.2 L410.0,383.8 L412.0,385.3 L414.1,386.9 L416.1,388.4 L418.1,389.9 L420.2,391.4 L422.2,393.0 L424.3,394.5 L426.3,396.0 L428.4,397.4 L430.4,398.9 L432.5,400.4 L434.6,401.9 L436.7,403.3 L438.8,404.8 L440.9,406.2 L443.0,407.6 L445.1,409.1 L447.2,410.5 L449.3,411.9 L451.5,413.2 L453.6,414.6 L455.8,416.0 L457.9,417.3 L460.1,418.7 L462.3,420.0 L464.4,421.3 L466.6,422.6 L468.8,423.9 L471.0,425.2 L473.2,426.5 L475.4,427.8 L477.7,429.0 L479.9,430.3 L482.1,431.5 L484.3,432.7 L486.6,434.0 L488.8,435.2 L491.1,436.3 L493.4,437.5 L495.6,438.7 L497.9,439.8 L500.2,441.0 L502.5,442.1 L504.8,443.2 L507.1,444.3 L509.4,445.4 L511.7,446.5 L514.0,447.6 L516.3,448.6 L518.6,449.7 L521.0,450.7 L523.3,451.7 L525.6,452.7 L528.0,453.7 L530.3,454.7 L532.7,455.6 L535.1,456.6 L537.4,457.5 L539.8,458.5 L542.2,459.4 L544.6,460.3 L547.0,461.2 L549.4,462.0 L551.8,462.9 L554.2,463.7 L556.6,464.6 L559.0,465.4 L561.4,466.2 L563.8,467.0 L566.2,467.7 L568.7,468.5 L571.1,469.3 L573.5,470.0 L576.0,470.7 L578.4,471.4 L580.9,472.1 L583.3,472.8 L585.8,473.4 L588.3,474.1 L590.7,474.7 L593.2,475.3 L595.7,475.9 L598.1,476.5 L600.6,477.1 L603.1,477.6 L605.6,478.1 L608.1,478.7 L610.6,479.2 L613.1,479.7" fill="none" stroke="#0f6b60" stroke-width="3.8" stroke-dasharray="7,3.5"/>
<rect x="543" y="459" width="3.5" height="232" fill="#5cc0c2"/>
<path d="M541,459 V691" stroke="#0f6b60" stroke-width="3.5" stroke-dasharray="7,3.5"/>
<rect x="574" y="468" width="3.6" height="223" fill="#f8b733"/>
<g class="a" font-size="15.5" fill="#fff" text-anchor="middle">
<text x="55.3" y="304.6">4</text>
<text x="55.3" y="403">3</text>
<text x="55.3" y="501">2</text>
<text x="55.3" y="599.8">1</text>
<text x="55.3" y="697.5">0</text>
</g>
<g class="a" font-size="15" font-weight="bold" fill="#fff" text-anchor="middle">
<text x="86.4" y="721.5">1950</text>
<text x="256.6" y="721.5">2000</text>
<text x="433.6" y="721.5">2050</text>
<text x="611.9" y="721.5">2100</text>
</g>
<text class="s" x="248.8" y="613.7" font-size="16.5" font-weight="bold" fill="#fff" textLength="146.3" lengthAdjust="spacingAndGlyphs">Metylklorid (CH3Cl)</text>
<text class="s" x="247.5" y="648.7" font-size="15.5" fill="#1e1e1e" stroke="#1e1e1e" stroke-width="0.25" textLength="149.1" lengthAdjust="spacing">Brommetan (CH3Br)</text>
<text class="s" x="249" y="682.6" font-size="16.1" fill="#1e1e1e" stroke="#1e1e1e" stroke-width="0.25" textLength="211.3" lengthAdjust="spacing">Kortlivede bromforbindelser</text>
<text class="s" x="249" y="451" font-size="21" fill="#1a1a1a" stroke="#1a1a1a" stroke-width="0.75" textLength="102" lengthAdjust="spacing">Grunnlinje</text>
<text class="s" transform="translate(35.8,664.2) rotate(-90)" x="0" y="0" font-size="15.8" fill="#dddddd" textLength="315.5" lengthAdjust="spacing">Ekvivalenter av klor i stratosfæren (milliarddeler)</text>
<text class="s" x="25.4" y="769.6" font-size="15.5" fill="#fff" stroke="#fff" stroke-width="0.3" textLength="258.2" lengthAdjust="spacing">Kilde: Science Magazine. Grafikk: LGJ</text>
</svg>
</body></html>
